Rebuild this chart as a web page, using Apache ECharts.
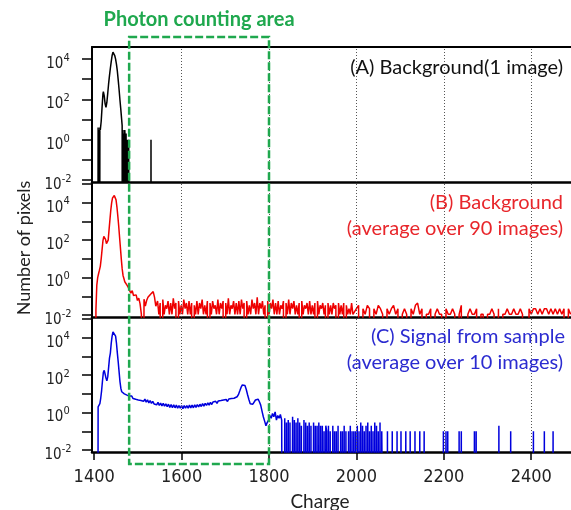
<!DOCTYPE html>
<html>
<head>
<meta charset="utf-8">
<title>Photon counting area</title>
<style>
  html, body { margin: 0; padding: 0; background: #fff; }
  #main { width: 571px; height: 510px; }
</style>
</head>
<body>
<div id="main"></div>
<script src="https://cdn.jsdelivr.net/npm/echarts@6/dist/echarts.min.js"></script>
<script>
// ---- axes ----
var chargeMin = 1395, chargeMax = 2491;
var chargeTicks = [1400, 1600, 1800, 2000, 2200, 2400];
var gridLines = [1600, 1800, 2000, 2200, 2400];
var photonArea = [1480, 1800];
var yMin = 0.0079, yMaxA = 39800, yMaxBC = 126000;
var yTicksA = [0.01, 0.1, 1, 10, 100, 1000, 10000];
var yTicksBC = [0.01, 0.1, 1, 10, 100, 1000, 10000, 100000];
var yLabels = [0.01, 1, 100, 10000];

// ---- (A) background, 1 image ----
var aCharge = [1407, 1408, 1409, 1410, 1411, 1412, 1413, 1414, 1416, 1418, 1420, 1421, 1423, 1425, 1427, 1429,
  1431, 1433, 1435, 1437, 1439, 1441, 1443, 1445, 1447, 1449, 1451, 1453, 1455, 1457, 1459, 1461, 1463, 1464,
  1465, 1466, 1467, 1468, 1469, 1470, 1471, 1472, 1473, 1474, 1475, 1476, 1477, 1478, 1479, 1480, 1481];
var aCounts = [0, 0, 4, 0, 3, 0, 4, 3, 8, 40, 180, 240, 150, 60, 40, 70,
  200, 600, 1500, 3500, 7500, 15000, 22000, 20000, 15000, 10000, 5500, 2500, 900, 300, 90, 30, 9, 5,
  0, 3, 0, 2, 0, 3, 1, 0, 2, 0, 1, 0, 1, 0, 1, 1, 0];
var aSpikeCharge = [1530];
var aSpikeCounts = [1];

// ---- (B) background, average over 90 images ----
var bCharge = [1403, 1404, 1406, 1408, 1410, 1412, 1414, 1416, 1418, 1420, 1422, 1424, 1426, 1428, 1430, 1432,
  1434, 1436, 1438, 1440, 1442, 1444, 1446, 1448, 1450, 1452, 1454, 1456, 1458, 1460, 1462, 1464, 1466, 1468,
  1470, 1472, 1475, 1478, 1481, 1484, 1487, 1490, 1493, 1496, 1499, 1502, 1505, 1508, 1511, 1514, 1517, 1520,
  1523, 1526, 1529, 1532, 1535, 1538, 1541];
var bCounts = [0, 0.02, 0.4, 1, 1.6, 2.5, 4, 10, 30, 90, 160, 170, 110, 65, 60, 100,
  350, 1200, 4000, 10000, 18000, 23000, 24000, 21000, 14000, 6000, 2000, 600, 150, 40, 10, 3, 1.3, 0.9,
  0.6, 0.5, 0.4, 0.3, 0.2, 0.15, 0.2, 0.11, 0.09, 0.12, 0.06, 0.08, 0.04, 0.011, 0, 0.07, 0.03, 0.06,
  0.09, 0.1, 0.13, 0.16, 0.18, 0.09, 0.03];
var bDenseStart = 1545, bDenseStep = 3;
var bDense = [
  .056, .011, .044, 0, .067, .011, .033, .022, .056, .011,
  .044, .011, .078, .022, .044, 0, .056, .011, .033, .011,
  .067, .022, .044, .011, .056, .011, .044, 0, .033, .011,
  .056, .011, .044, .022, .067, .011, .033, .011, .056, 0,
  .044, .011, .056, .022, .033, .011, .067, .011, .044, .022,
  .056, 0, .044, .011, .078, .011, .033, .022, .056, .011,
  .044, .011, .056, .011, .067, .022, .044, 0, .056, .011,
  .033, .011, .067, .022, .044, .011, .089, .011, .044, .022,
  .056, .011, .033, 0, .056, .011, .044, .022, .067, .011,
  .044, .011, .056, .011, .033, .022, .056, 0, .044, .011,
  .067, .011, .044, .022, .056, .011, .033, .011, .044, 0,
  .056, .011, .033, .022, .044, .011, .056, .011, .033, .011,
  .044, 0, .056, .011, .033, .022, .044, .011, .033, 0,
  .044, .011, .033, .011, .044, .022, .033, 0, .044, .011,
  .033, .011, .044, 0, .033, .011, .022, .011, .044, .011];
var bTailStart = 1995, bTailStep = 5;
var bTail = [
  .011, .022, .033, 0, .022, .011, .033, .022, 0, .022,
  .011, .033, .022, .011, 0, .022, .011, .022, .033, .011,
  .022, 0, .011, .022, .011, 0, .022, .011, .033, .044,
  .011, .022, 0, .011, .011, .022, 0, .011, .022, .011,
  .011, 0, .022, .011, .011, .022, .011, 0, .011, .033,
  0, 0, .011, .022, .011, .011, .022, 0, .011, .011,
  0, .011, .011, .022, .011, 0, .022, 0, .011, .011,
  .022, .011, .011, .022, .011, .011, .022, .011, 0, 0,
  .022, .011, .022, .022, .011, .022, .011, .022, .022, .011,
  .022, .011, .022, .011, .022, .011, .022, 0, .022, .011];

// ---- (C) signal from sample, average over 10 images ----
var cCharge = [1407, 1408, 1409, 1411, 1413, 1415, 1417, 1419, 1421, 1423, 1425, 1427, 1429, 1431, 1433, 1435,
  1437, 1439, 1441, 1443, 1445, 1447, 1449, 1451, 1453, 1455, 1457, 1459, 1461, 1463, 1466, 1469, 1472, 1475, 1478];
var cCounts = [0, 0, 2, 2, 3, 6, 15, 50, 140, 180, 150, 70, 50, 80, 250, 800,
  1500, 5000, 12000, 20000, 21000, 17000, 12000, 5000, 1500, 500, 150, 45, 20, 13, 11, 10, 9, 8.5, 8];
var cSlopeStart = 1480, cSlopeStep = 3;
var cSlope = [
  7.6, 6.0, 7.6, 5.6, 7.0, 5.1, 6.4, 4.7, 6.0, 4.4,
  5.6, 4.0, 5.2, 3.6, 4.8, 3.3, 4.4, 3.1, 4.0, 2.9,
  3.7, 2.6, 3.5, 2.4, 3.2, 2.3, 3.1, 2.2, 2.9, 2.1,
  2.8, 1.9, 2.7, 1.8, 2.6, 1.8, 2.5, 1.7, 2.4, 1.7,
  2.4, 1.6, 2.4, 1.7, 2.4, 1.7, 2.5, 1.8, 2.5, 1.8,
  2.6, 1.9, 2.7, 2.0, 2.8, 2.1, 3.0, 2.2, 3.1, 2.4,
  3.3, 2.5, 3.5, 2.7, 3.7, 2.9, 4.0, 3.1, 4.2, 3.3,
  4.4, 3.5, 4.7, 3.7, 5.0, 3.9, 5.3, 4.2, 5.6, 4.5,
  5.8];
var cPeakCharge = [1724, 1727, 1730, 1733, 1736, 1739, 1742, 1745, 1748, 1751, 1754, 1757, 1760, 1763, 1766, 1769,
  1772, 1775, 1778, 1781, 1784, 1787, 1790, 1793, 1796, 1799];
var cPeakCounts = [5.8, 7, 9, 14, 22, 30, 33, 28, 17, 9, 5, 3, 2.6, 2.8, 3.5, 4.7,
  5.6, 5.2, 3.8, 2.5, 1.2, 0.6, 0.35, 0.2, 0.3, 0.4];
var cTailStart = 1802, cTailStep = 3;
var cTail = [0.7, 0.5, 0.9, 0.6, 1.1, 0.4, 0.7, 0.5, 0.8, 0.4];
var cNoiseStart = 1832, cNoiseStep = 2;
var cNoise = [
  0.4, 0, 0.5, 0, 0.3, 0, 0.4, 0, 0.3, 0,
  0, 0.6, 0, 0.4, 0, 0.3, 0, 0.5, 0, 0.3,
  0, 0.2, 0, 0, 0.4, 0, 0.3, 0, 0.2, 0,
  0.3, 0, 0.2, 0, 0, 0.3, 0, 0.2, 0, 0.2,
  0, 0.3, 0, 0.2, 0, 0.2, 0, 0.1, 0, 0.2,
  0.1, 0, 0.2, 0, 0.1, 0, 0, 0.2, 0, 0.1,
  0, 0.1, 0, 0.2, 0, 0, 0.1, 0, 0.1, 0,
  0.2, 0, 0.1, 0, 0, 0.1, 0, 0.2, 0, 0.1,
  0, 0.1, 0, 0.1, 0, 0.2, 0, 0.1, 0, 0.3,
  0, 0.2, 0, 0.1, 0, 0.2, 0, 0.3, 0, 0.1,
  0, 0.2, 0, 0.1, 0, 0.3, 0, 0.2, 0, 0.1,
  0, 0.3, 0, 0.1];
var cSpikeCharge = [2071, 2082, 2093, 2102, 2113, 2123, 2134, 2145, 2155, 2199, 2205, 2209, 2235, 2240,
  2270, 2274, 2326, 2353, 2405, 2430, 2450];
var cSpikeCounts = [0.1, 0.1, 0.1, 0.1, 0.1, 0.1, 0.1, 0.1, 0.1, 0.1, 0.1, 0.1, 0.1, 0.1,
  0.1, 0.1, 0.2, 0.1, 0.1, 0.1, 0.1];

// zero counts have no log, they drop far below the axis floor
var FLOOR = 1e-30;
function pairs(xs, ys) {
  return xs.map(function (x, i) { return [x, ys[i] || FLOOR]; });
}
function run(start, step, ys) {
  return ys.map(function (y, i) { return [start + i * step, y || FLOOR]; });
}
function spikes(xs, ys) {
  var out = [];
  xs.forEach(function (x, i) { out.push([x - 1, FLOOR], [x, ys[i]], [x + 1, FLOOR]); });
  return out;
}

var dataA = pairs(aCharge, aCounts).concat(spikes(aSpikeCharge, aSpikeCounts));
var dataB = pairs(bCharge, bCounts)
  .concat(run(bDenseStart, bDenseStep, bDense))
  .concat(run(bTailStart, bTailStep, bTail));
var dataC = pairs(cCharge, cCounts)
  .concat(run(cSlopeStart, cSlopeStep, cSlope))
  .concat(pairs(cPeakCharge, cPeakCounts))
  .concat(run(cTailStart, cTailStep, cTail))
  .concat(run(cNoiseStart, cNoiseStep, cNoise))
  .concat(spikes(cSpikeCharge, cSpikeCounts));

var GREEN = '#1fa84e';
var NUM_FONT = '"Liberation Sans Narrow", "DejaVu Sans Condensed", "Liberation Sans", sans-serif';
var TXT_FONT = 'Lato, "Open Sans", sans-serif';

var myChart = echarts.init(document.getElementById('main'));

function powerLabel(v) {
  var e = Math.round(Math.log(v) / Math.LN10);
  return '{b|10}{e|' + e + '}';
}

function grid(top) {
  return { left: 92, right: 0, top: top, height: 135, outerBoundsMode: 'none' };
}

function yAxis(idx, max, ticks) {
  return {
    type: 'log', logBase: 10, gridIndex: idx, min: yMin, max: max,
    axisLine: { show: true, onZero: false, lineStyle: { color: '#000', width: 2 } },
    axisTick: { show: true, length: 10, customValues: ticks, lineStyle: { color: '#000', width: 1.5 } },
    splitLine: { show: false },
    minorTick: { show: false },
    axisLabel: {
      show: true, customValues: yLabels, margin: 34, align: 'center', color: '#222',
      formatter: powerLabel,
      rich: {
        b: { fontFamily: NUM_FONT, fontSize: 15, color: '#222', padding: [10, 0, 0, 0] },
        e: { fontFamily: NUM_FONT, fontSize: 11, color: '#222', padding: [0, 0, 2, 0] }
      }
    }
  };
}

function plainX(idx, position, width) {
  return {
    type: 'value', gridIndex: idx, position: position, min: chargeMin, max: chargeMax,
    axisLine: { show: true, onZero: false, lineStyle: { color: '#000', width: width } },
    axisTick: { show: false }, axisLabel: { show: false }, splitLine: { show: false }
  };
}

function trace(idx, data, color) {
  return {
    type: 'line', xAxisIndex: idx, yAxisIndex: idx, data: data,
    showSymbol: false, symbol: 'none', clip: true, silent: true, z: 3,
    lineStyle: { color: color, width: 1.5 }
  };
}

function dotted(idx) {
  return {
    type: 'line', xAxisIndex: idx, yAxisIndex: idx, data: [], z: 1, silent: true,
    markLine: {
      symbol: 'none', silent: true, animation: false, label: { show: false },
      lineStyle: { color: '#555', width: 1, type: [1, 2] },
      data: gridLines.map(function (v) { return { xAxis: v }; })
    }
  };
}

var option = {
  animation: false,
  backgroundColor: '#fff',
  grid: [grid(47), grid(182), grid(317)],
  xAxis: [
    plainX(0, 'bottom', 2.5),
    plainX(1, 'bottom', 2.5),
    {
      type: 'value', gridIndex: 2, min: chargeMin, max: chargeMax,
      axisLine: { show: true, onZero: false, lineStyle: { color: '#000', width: 2.5 } },
      axisTick: { show: true, length: 8, customValues: chargeTicks, lineStyle: { color: '#000', width: 1.5 } },
      axisLabel: {
        show: true, customValues: chargeTicks, margin: 16, color: '#222', fontFamily: NUM_FONT, fontSize: 18,
        formatter: function (v) { return String(v); }
      },
      splitLine: { show: false }
    },
    plainX(0, 'top', 2)
  ],
  yAxis: [yAxis(0, yMaxA, yTicksA), yAxis(1, yMaxBC, yTicksBC), yAxis(2, yMaxBC, yTicksBC)],
  series: [
    dotted(0), dotted(1), dotted(2),
    trace(0, dataA, '#000000'),
    trace(1, dataB, '#ee0000'),
    trace(2, dataC, '#0000dd')
  ]
};

myChart.setOption(option);

// photon counting box, placed with the charge axis
var x1 = myChart.convertToPixel({ xAxisIndex: 2 }, photonArea[0]);
var x2 = myChart.convertToPixel({ xAxisIndex: 2 }, photonArea[1]);

function label(text, x, y, color, size, weight) {
  return {
    type: 'text', x: x, y: y, z: 100, silent: true,
    style: {
      text: text, fill: color, textAlign: 'right', textVerticalAlign: 'middle',
      font: (weight || 'normal') + ' ' + size + 'px ' + TXT_FONT
    }
  };
}

myChart.setOption({
  graphic: [
    {
      type: 'rect', z: 100, silent: true,
      shape: { x: x1, y: 37, width: x2 - x1, height: 427 },
      style: { fill: 'none', stroke: GREEN, lineWidth: 2.5, lineDash: [8, 3] }
    },
    {
      type: 'text', x: (x1 + x2) / 2, y: 20, z: 100, silent: true,
      style: { text: 'Photon counting area', fill: GREEN, textAlign: 'center', textVerticalAlign: 'middle',
        font: 'bold 20px ' + TXT_FONT }
    },
    label('(A) Background(1 image)', 563, 68, '#111', 20),
    label('(B) Background', 563, 203, '#e8262b', 20),
    label('(average over 90 images)', 563, 229, '#e8262b', 20),
    label('(C) Signal from sample', 565, 337, '#2b2bd0', 20),
    label('(average over 10 images)', 563, 363, '#2b2bd0', 20),
    {
      type: 'text', x: 24, y: 248, rotation: Math.PI / 2, z: 100, silent: true,
      style: { text: 'Number of pixels', fill: '#222', textAlign: 'center', textVerticalAlign: 'middle',
        font: '18px ' + TXT_FONT }
    },
    {
      type: 'text', x: 320, y: 502, z: 100, silent: true,
      style: { text: 'Charge', fill: '#222', textAlign: 'center', textVerticalAlign: 'middle',
        font: '19px ' + TXT_FONT }
    }
  ]
});
</script>
</body>
</html>
